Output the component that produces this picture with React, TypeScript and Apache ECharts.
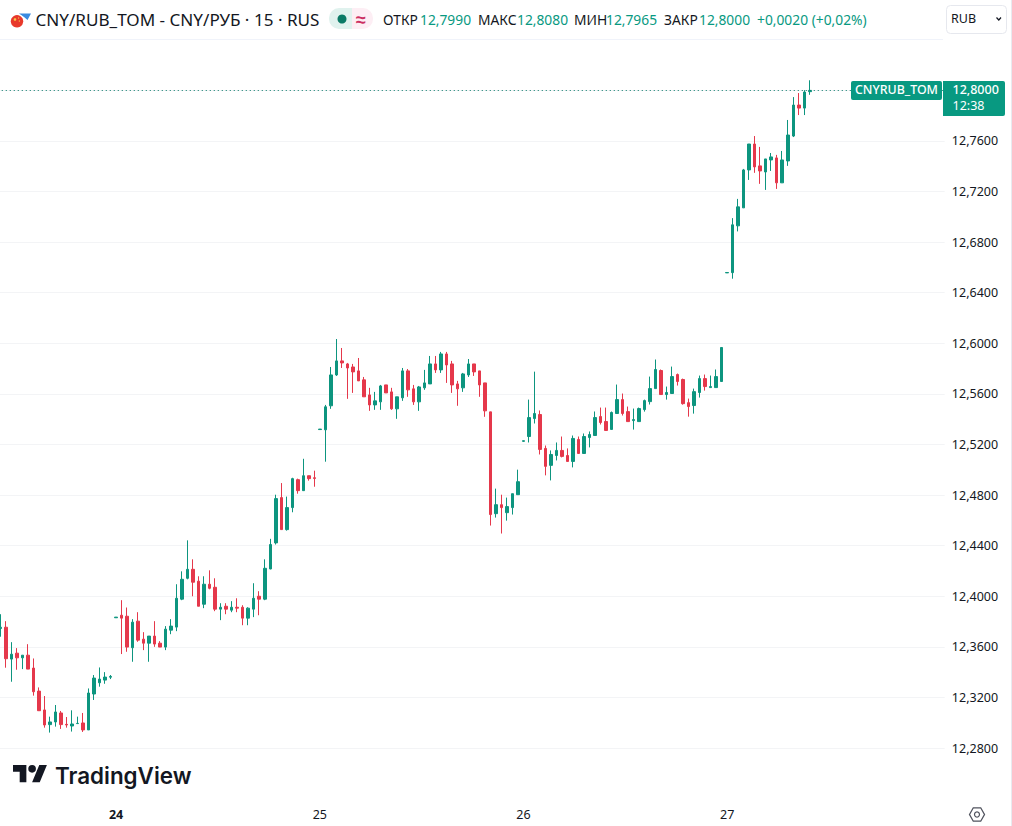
import React, { useEffect, useRef } from "react";
import * as echarts from "echarts";

const opens = [12.3745,12.3755,12.3503,12.355,12.3513,12.3534,12.3432,12.325,12.3101,12.2985,12.3006,12.3077,12.2987,12.2974,12.2993,12.2998,12.2943,12.3227,12.3316,12.3337,12.336,
12.383,12.385,12.3842,12.3593,12.3803,12.3661,12.3629,12.3685,12.3629,12.3598,12.3732,12.3756,12.3977,12.4142,12.4213,12.4119,12.3937,12.4095,12.4071,12.3898,12.3921,12.389,12.3913,12.3913,12.3827,12.3898,12.40,12.3977,12.4216,12.4422,12.478,12.4527,12.4701,12.4922,12.4835,12.4953,12.4937,
12.5318,12.5316,12.5506,12.575,12.5861,12.5837,12.5813,12.5782,12.5711,12.5592,12.5513,12.5537,12.5671,12.5616,12.5482,12.5569,12.5782,12.564,12.5537,12.5648,12.5679,12.5837,12.579,12.5916,12.5837,12.5679,12.5648,12.575,12.5837,12.5782,12.5687,12.5458,12.4653,12.4724,12.4661,12.4701,12.4803,
12.5225,12.5263,12.5405,12.5437,12.5169,12.5035,12.5113,12.5153,12.5113,12.5066,12.524,12.5129,12.5255,12.5271,12.5421,12.5382,12.5319,12.5445,12.5555,12.546,12.5389,12.5381,12.5476,12.5539,12.5642,12.5785,12.5595,12.5603,12.5753,12.5714,12.5531,12.5508,12.5611,12.5721,12.565,12.565,12.5698,
12.6557,12.6559,12.6929,12.7071,12.7371,12.7576,12.7403,12.7355,12.745,12.7466,12.7269,12.7442,12.7639,12.7884,12.786,12.799];
const closes = [12.3755,12.3506,12.3542,12.3513,12.3534,12.3424,12.3245,12.3095,12.2982,12.3006,12.3085,12.2985,12.2982,12.299,12.2995,12.2943,12.3235,12.3353,12.3345,12.3361,12.3366,
12.3835,12.3827,12.3598,12.3795,12.3653,12.3629,12.3685,12.3622,12.3598,12.374,12.3764,12.3984,12.4134,12.4213,12.4111,12.3921,12.4095,12.4063,12.3898,12.3913,12.3898,12.3913,12.3906,12.3827,12.3906,12.3984,12.3977,12.4221,12.4409,12.4772,12.4527,12.4701,12.493,12.4835,12.4953,12.493,12.4932,
12.5322,12.5498,12.575,12.5861,12.5845,12.5805,12.5774,12.5703,12.5577,12.5513,12.5545,12.5663,12.5608,12.5482,12.5577,12.5782,12.5632,12.5537,12.5655,12.5687,12.5837,12.579,12.5916,12.5829,12.5671,12.564,12.5758,12.5837,12.5774,12.5671,12.5466,12.4646,12.4724,12.4701,12.4709,12.4811,12.4906,
12.523,12.5413,12.5445,12.5161,12.5027,12.5121,12.5153,12.5106,12.5066,12.5248,12.5129,12.5263,12.5279,12.5413,12.5374,12.5311,12.5453,12.5555,12.5445,12.5381,12.5397,12.5484,12.5547,12.5642,12.5793,12.5595,12.5611,12.5737,12.5698,12.5523,12.55,12.5618,12.5721,12.5658,12.5658,12.5737,12.5967,
12.656,12.6937,12.7079,12.7371,12.7576,12.7395,12.7363,12.7458,12.7474,12.7269,12.745,12.7647,12.7884,12.786,12.7987,12.80];
const lows = [12.368,12.3435,12.3324,12.3419,12.3424,12.3424,12.3214,12.3095,12.2961,12.2922,12.2969,12.2951,12.2961,12.293,12.2993,12.2927,12.2943,12.318,12.3285,12.3308,12.3345,
12.383,12.3543,12.3561,12.3482,12.364,12.3574,12.3482,12.36,12.3598,12.3574,12.37,12.3724,12.3969,12.4134,12.40,12.3921,12.3906,12.4055,12.3882,12.3811,12.3858,12.3874,12.3874,12.3771,12.3771,12.3835,12.385,12.3969,12.4213,12.4409,12.4527,12.4519,12.4664,12.4811,12.4835,12.4914,12.4866,
12.5318,12.5064,12.5482,12.5742,12.5805,12.5561,12.5608,12.5703,12.5577,12.5466,12.5474,12.5474,12.5608,12.5474,12.5403,12.5545,12.5577,12.5513,12.5466,12.5632,12.5679,12.5766,12.5766,12.5687,12.5608,12.5506,12.5616,12.5734,12.5742,12.5577,12.5419,12.4559,12.4622,12.4496,12.4598,12.4646,12.4803,
12.5221,12.5216,12.5366,12.5121,12.4956,12.4916,12.5074,12.5098,12.5066,12.5019,12.5129,12.5129,12.5177,12.5271,12.5358,12.5311,12.5319,12.5445,12.5429,12.5381,12.5318,12.5381,12.546,12.5516,12.5642,12.5595,12.5555,12.5603,12.5666,12.5515,12.542,12.5444,12.5571,12.5626,12.565,12.565,12.5698,
12.6557,12.6511,12.6885,12.7071,12.7292,12.7348,12.7261,12.7213,12.7363,12.7221,12.7269,12.7403,12.7631,12.7805,12.7805,12.7965];
const highs = [12.3858,12.3803,12.3637,12.359,12.3534,12.3621,12.3508,12.3279,12.3211,12.3048,12.314,12.3093,12.3045,12.3098,12.3048,12.3077,12.3271,12.3377,12.3437,12.34,12.3377,
12.3835,12.3969,12.3911,12.3819,12.3874,12.3716,12.3685,12.3803,12.3645,12.3764,12.3819,12.4095,12.4197,12.4442,12.4292,12.4158,12.4158,12.4205,12.4142,12.3945,12.3945,12.3961,12.3984,12.3929,12.3913,12.4103,12.404,12.4292,12.4454,12.4803,12.4895,12.4788,12.4937,12.493,12.5087,12.4953,12.4993,
12.5322,12.5513,12.5813,12.6034,12.5963,12.5845,12.5837,12.5884,12.5734,12.5648,12.5616,12.5671,12.5671,12.5648,12.5577,12.5805,12.5797,12.5671,12.5663,12.579,12.59,12.59,12.5932,12.5932,12.5861,12.5703,12.5766,12.5876,12.5837,12.5782,12.5687,12.5458,12.4851,12.4803,12.478,12.4811,12.5001,
12.523,12.5555,12.5776,12.5469,12.5192,12.5153,12.5216,12.5263,12.5169,12.5271,12.5263,12.5287,12.5303,12.5461,12.5492,12.5492,12.5461,12.5674,12.5603,12.55,12.5484,12.5492,12.5555,12.5737,12.5872,12.5793,12.5658,12.5816,12.5761,12.5721,12.5563,12.5642,12.5745,12.5753,12.5745,12.5793,12.5967,
12.656,12.699,12.7142,12.7379,12.7576,12.7639,12.7553,12.7458,12.7505,12.749,12.7521,12.7766,12.7947,12.7979,12.8002,12.808];

const dayLabels = ["24", "25", "26", "27"];
const dayIndexes = [21, 58, 95, 132];
const slotCount = 172;
const categories = Array.from({ length: slotCount }, (_, i) => {
  const d = dayIndexes.indexOf(i);
  return d >= 0 ? dayLabels[d] : "";
});
const priceTicks = ["12,2800","12,3200","12,3600","12,4000","12,4400","12,4800","12,5200","12,5600","12,6000","12,6400","12,6800","12,7200","12,7600"];
const lastPrice = 12.8;

const GREEN = "#089981";
const CANDLE_UP = "#0d957f";
const CANDLE_DOWN = "#e5384b";
const INK = "#131722";
const FONT = "'Noto Sans', sans-serif";

const headerPieces: [string, number, string][] = [
  ["ОТКР", 383, INK], ["12,7990", 420, GREEN],
  ["МАКС", 478, INK], ["12,8080", 517, GREEN],
  ["МИН", 574, INK], ["12,7965", 606, GREEN],
  ["ЗАКР", 664, INK], ["12,8000", 699, GREEN],
  ["+0,0020 (+0,02%)", 757, GREEN],
];

echarts.graphic.registerShape(
  "tvLogo",
  echarts.graphic.extendPath(
    "M14 22H7V11H0V4h14v18zM28 22h-8l7.5-18h8L28 22zM24 8a4 4 0 1 1-8 0a4 4 0 0 1 8 0z",
    {}
  )
);

export default function App() {
  const ref = useRef<HTMLDivElement>(null);
  useEffect(() => {
    document.body.style.margin = "0";
    const chart = echarts.init(ref.current!, undefined, { renderer: "svg", width: 1012, height: 826 });
    const txt = (text: string, x: number, y: number, fill: string, fontSize: number, extra: any = {}) => ({
      type: "text", x, y, z: 20, silent: true,
      style: { text, fill, fontSize, fontFamily: FONT, verticalAlign: "middle", ...extra },
    });
    chart.setOption({
      animation: false,
      backgroundColor: "#ffffff",
      grid: { left: -2.25, top: 39.8, width: 946.9, height: 758.8, containLabel: false, outerBoundsMode: "none" },
      xAxis: {
        type: "category",
        data: categories,
        boundaryGap: true,
        axisLine: { show: false },
        axisTick: { show: false },
        splitLine: { show: false },
        axisLabel: {
          interval: (i: number) => dayIndexes.includes(i),
          margin: 9,
          color: INK,
          fontFamily: FONT,
          fontSize: 12.5,
          formatter: (v: string) => (v === dayLabels[0] ? `{b|${v}}` : v),
          rich: { b: { fontWeight: "bold", fontSize: 12.5, fontFamily: FONT, color: INK } },
        },
      },
      yAxis: {
        type: "value",
        position: "right",
        min: 12.24,
        max: 12.84,
        interval: 0.04,
        scale: true,
        axisLine: { show: false },
        axisTick: { show: false },
        splitLine: { show: true, showMinLine: false, showMaxLine: false, lineStyle: { color: "#f3f4f6", width: 1 } },
        axisLabel: {
          margin: 7.2,
          color: INK,
          fontFamily: FONT,
          fontSize: 12.5,
          align: "left",
          padding: [0, 0, 4, 0],
          formatter: (v: number) => {
            const s = v.toFixed(4).replace(".", ",");
            return priceTicks.includes(s) ? s : "";
          },
        },
      },
      series: [
        {
          type: "candlestick",
          barWidth: 3,
          data: opens.map((o, i) => [o, closes[i], lows[i], highs[i]]),
          itemStyle: { color: CANDLE_UP, color0: CANDLE_DOWN, borderColor: CANDLE_UP, borderColor0: CANDLE_DOWN, borderWidth: 1 },
          markLine: {
            silent: true,
            symbol: "none",
            label: { show: false },
            lineStyle: { color: "#067a68", type: [1, 3], width: 1 },
            data: [{ yAxis: lastPrice }],
          },
        },
      ],
      graphic: [
        { type: "line", z: 5, silent: true, shape: { x1: 0, y1: 39.5, x2: 943, y2: 39.5 }, style: { stroke: "#f0f3fa", lineWidth: 1 } },
        { type: "line", z: 5, silent: true, shape: { x1: 1011.5, y1: 0, x2: 1011.5, y2: 826 }, style: { stroke: "#e8eaf0", lineWidth: 1 } },
        // flag
        { type: "polygon", z: 20, silent: true, shape: { points: [[19, 13.5], [31, 13.5], [27.5, 20], [24, 17]] }, style: { fill: "#3a8be0" } },
        { type: "circle", z: 21, silent: true, shape: { cx: 17, cy: 21, r: 7 }, style: { fill: "#ffffff" } },
        { type: "circle", z: 22, silent: true, shape: { cx: 17, cy: 21.3, r: 6.2 }, style: { fill: "#e8392b" } },
        { type: "circle", z: 23, silent: true, shape: { cx: 15, cy: 19.5, r: 1.3 }, style: { fill: "#f7c948" } },
        { type: "circle", z: 23, silent: true, shape: { cx: 18.6, cy: 18, r: 0.6 }, style: { fill: "#f7c948" } },
        { type: "circle", z: 23, silent: true, shape: { cx: 19.3, cy: 21, r: 0.6 }, style: { fill: "#f7c948" } },
        txt("CNY/RUB_TOM - CNY/РУБ · 15 · RUS", 35.5, 19, INK, 17.1),
        // status badge
        { type: "rect", z: 20, silent: true, shape: { x: 329, y: 8, width: 23, height: 21, r: [10, 0, 0, 10] }, style: { fill: "#e0f2ee" } },
        { type: "rect", z: 20, silent: true, shape: { x: 352, y: 8, width: 21, height: 21, r: [0, 10, 10, 0] }, style: { fill: "#fdeef4" } },
        { type: "circle", z: 21, silent: true, shape: { cx: 342, cy: 19, r: 4.5 }, style: { fill: "#0b7a66" } },
        txt("≈", 356, 18.5, "#cc2f62", 18, { fontWeight: "bold" }),
        ...headerPieces.map(([t, x, c]) => txt(t, x, 19, c, 13.8)),
        // currency selector
        { type: "rect", z: 20, silent: true, shape: { x: 946.5, y: 5.5, width: 60, height: 28, r: 4 }, style: { fill: "#fff", stroke: "#e6e8ee", lineWidth: 1 } },
        txt("RUB", 951, 18.5, INK, 12.5),
        { type: "polyline", z: 21, silent: true, shape: { points: [[996.5, 17.5], [998.8, 20], [1001, 17.5]] }, style: { stroke: INK, fill: "none", lineWidth: 1.2 } },
        // last-price tags
        { type: "rect", z: 20, silent: true, shape: { x: 851, y: 81, width: 91, height: 19, r: 2 }, style: { fill: GREEN } },
        txt("CNYRUB_TOM", 855, 89.5, "#ffffff", 12.4, { fontWeight: 500 }),
        { type: "rect", z: 20, silent: true, shape: { x: 943, y: 81, width: 62, height: 35, r: [0, 2, 2, 0] }, style: { fill: GREEN } },
        txt("12,8000", 952.5, 89, "#ffffff", 12.5, { fontWeight: 500 }),
        txt("12:38", 952.5, 105, "#ffffff", 12.5),
        // logo
        { type: "tvLogo", z: 20, silent: true, x: 13, y: 761.2, scaleX: 0.955, scaleY: 0.955, style: { fill: INK } },
        txt("TradingView", 55, 775, INK, 22.4, { fontFamily: "Inter, sans-serif", fontWeight: 600 }),
        // settings icon
        { type: "polygon", z: 20, silent: true, shape: { points: [[969.5, 814.5], [973.3, 807.8], [980.7, 807.8], [984.5, 814.5], [980.7, 821.2], [973.3, 821.2]] }, style: { fill: "none", stroke: "#50535e", lineWidth: 1.3 } },
        { type: "circle", z: 20, silent: true, shape: { cx: 977, cy: 814.5, r: 2.5 }, style: { fill: "none", stroke: "#50535e", lineWidth: 1.2 } },
      ],
    });
    return () => chart.dispose();
  }, []);
  return <div ref={ref} style={{ width: 1012, height: 826, position: "absolute", left: 0, top: 0 }} />;
}
